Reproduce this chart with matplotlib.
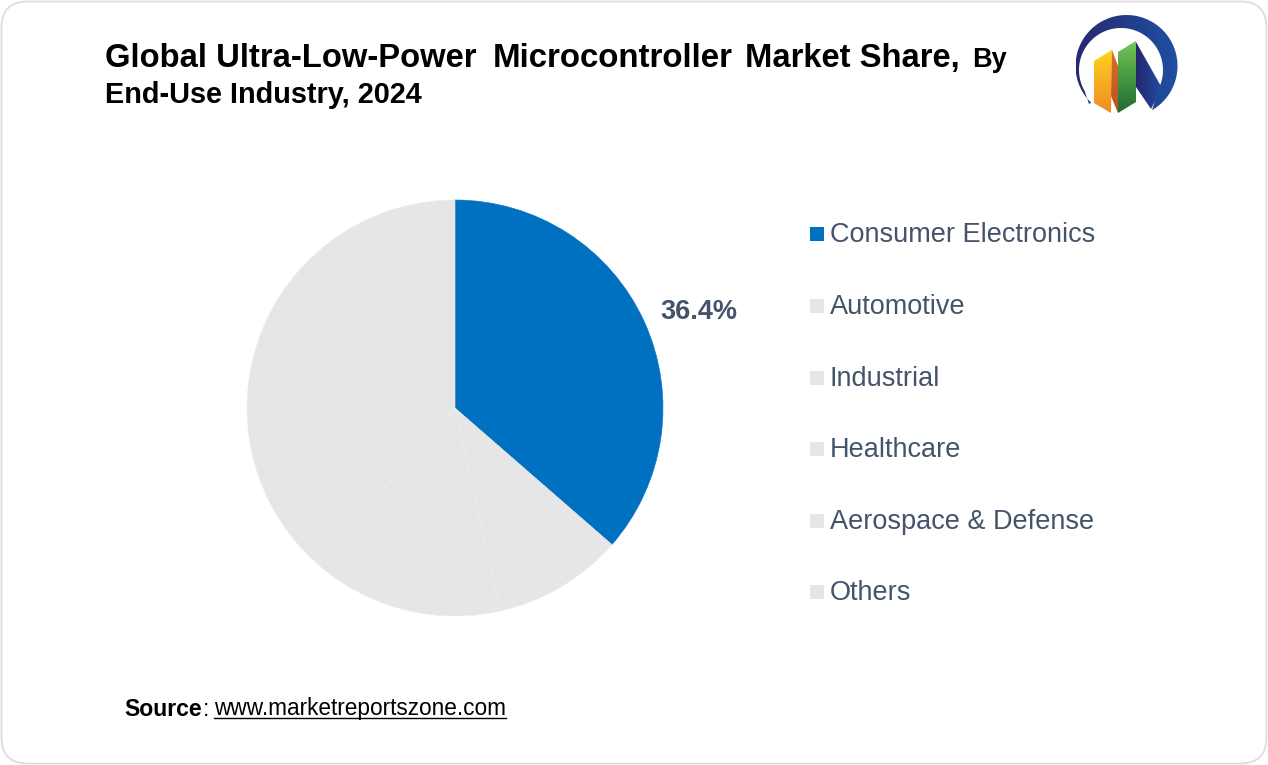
"""Ultra-low-power microcontroller market share pie."""

import matplotlib

matplotlib.use("Agg")
import matplotlib.pyplot as plt  # noqa: E402
import numpy as np  # noqa: E402
from matplotlib.patches import FancyBboxPatch, Polygon, Rectangle  # noqa: E402

categories = ["Consumer Electronics", "Automotive", "Industrial", "Healthcare", "Aerospace & Defense", "Others"]
shares = [36.4, 10.1, 10.0, 5.0, 4.9, 33.6]
colors = ["#0070C0", "#E6E6E6", "#E6E6E6", "#E6E6E6", "#E6E6E6", "#E6E6E6"]

W, H = 1268, 765
TEXT_COLOR = "#44546A"
plt.rcParams["font.family"] = ["Liberation Sans", "DejaVu Sans"]


def arc(cx, cy, r, a0, a1, n=80):
    t = np.radians(np.linspace(a0, a1, n))
    return np.column_stack([cx + r * np.cos(t), cy + r * np.sin(t)])


def gradient_patch(ax, points, stops, vertical=False):
    """Fill a polygon with a linear gradient, in pixel coordinates."""
    points = np.asarray(points)
    x0, y0 = points.min(axis=0)
    x1, y1 = points.max(axis=0)
    cmap = matplotlib.colors.LinearSegmentedColormap.from_list("g", stops)
    ramp = np.linspace(0, 1, 128)
    grid = ramp[:, None] if vertical else ramp[None, :]
    im = ax.imshow(grid, cmap=cmap, extent=(x0, x1, y1, y0), origin="upper", aspect="auto", zorder=3)
    patch = Polygon(points, closed=True, transform=ax.transData, facecolor="none", edgecolor="none")
    ax.add_patch(patch)
    im.set_clip_path(patch)


fig = plt.figure(figsize=(W / 100, H / 100), dpi=100, facecolor="white")
page = fig.add_axes([0, 0, 1, 1])
page.set_xlim(0, W)
page.set_ylim(H, 0)
page.axis("off")

page.add_patch(
    FancyBboxPatch(
        (1.5, 1.5), W - 3, H - 3,
        boxstyle="round,pad=0,rounding_size=26",
        facecolor="white", edgecolor="#DDDDDD", linewidth=1.3,
    )
)

# title
page.text(105, 58, "Global Ultra-Low-Power", fontsize=23.6, fontweight="bold", va="center", color="black")
page.text(493, 58, "Microcontroller", fontsize=23.8, fontweight="bold", va="center", color="black")
page.text(745, 58, "Market Share,", fontsize=23.6, fontweight="bold", va="center", color="black")
page.text(972, 60, "By", fontsize=19.5, fontweight="bold", va="center", color="black")
page.text(105, 95, "End-Use Industry, 2024", fontsize=20.8, fontweight="bold", va="center", color="black")

# pie, centre (455, 408) radius 208 px
pie_ax = fig.add_axes([(455 - 208) / W, 1 - (408 + 208) / H, 416 / W, 416 / H])
wedges, _ = pie_ax.pie(
    shares, colors=colors, startangle=90, counterclock=False, radius=1,
    wedgeprops={"edgecolor": "#EEEEEE", "linewidth": 0.4},
)
wedges[0].set_edgecolor("#0070C0")
pie_ax.set_xlim(-1, 1)
pie_ax.set_ylim(-1, 1)

page.text(699, 312, f"{shares[0]}%", fontsize=19.5, fontweight="bold", ha="center", va="center", color=TEXT_COLOR)

# legend
legend_y = [235, 307, 379, 450, 522, 593]
for label, color, y in zip(categories, colors, legend_y):
    page.add_patch(Rectangle((810, y - 8), 14, 14, facecolor=color, edgecolor="none"))
    page.text(830, y, label, fontsize=19.5, va="center", color=TEXT_COLOR)

# source line
page.text(124, 709, "Source", fontsize=16.6, fontweight="bold", va="center", color="black")
page.text(203, 709, ":", fontsize=16.3, va="center", color="black")
page.text(214, 709, "www.marketreportszone.com", fontsize=16.3, va="center", color="black")
page.plot([214, 506], [718, 718], color="black", linewidth=1)

# logo
outer = arc(1126.5, 66, 51, 134, 420)
inner = arc(1121, 70, 42, 384, 150)
gradient_patch(page, np.vstack([outer, inner, [[1089, 104]]]), ["#27296F", "#1F4FA3"])
gradient_patch(
    page,
    [[1136, 42], [1162, 88], [1151, 109], [1136, 87]],
    ["#25266C", "#1E4FA5"],
)
gradient_patch(page, [[1094, 61], [1112, 50], [1111, 113], [1094, 103]], ["#FFD21E", "#F08A24"], vertical=True)
gradient_patch(page, [[1112, 50], [1118, 66], [1118, 113], [1111, 96]], ["#D9702A", "#B9511F"], vertical=True)
gradient_patch(page, [[1118, 52], [1136, 41], [1136, 102], [1118, 113]], ["#72C656", "#1F6B32"], vertical=True)

page.set_xlim(0, W)
page.set_ylim(H, 0)

fig.savefig("out.png", dpi=100)
plt.close(fig)
